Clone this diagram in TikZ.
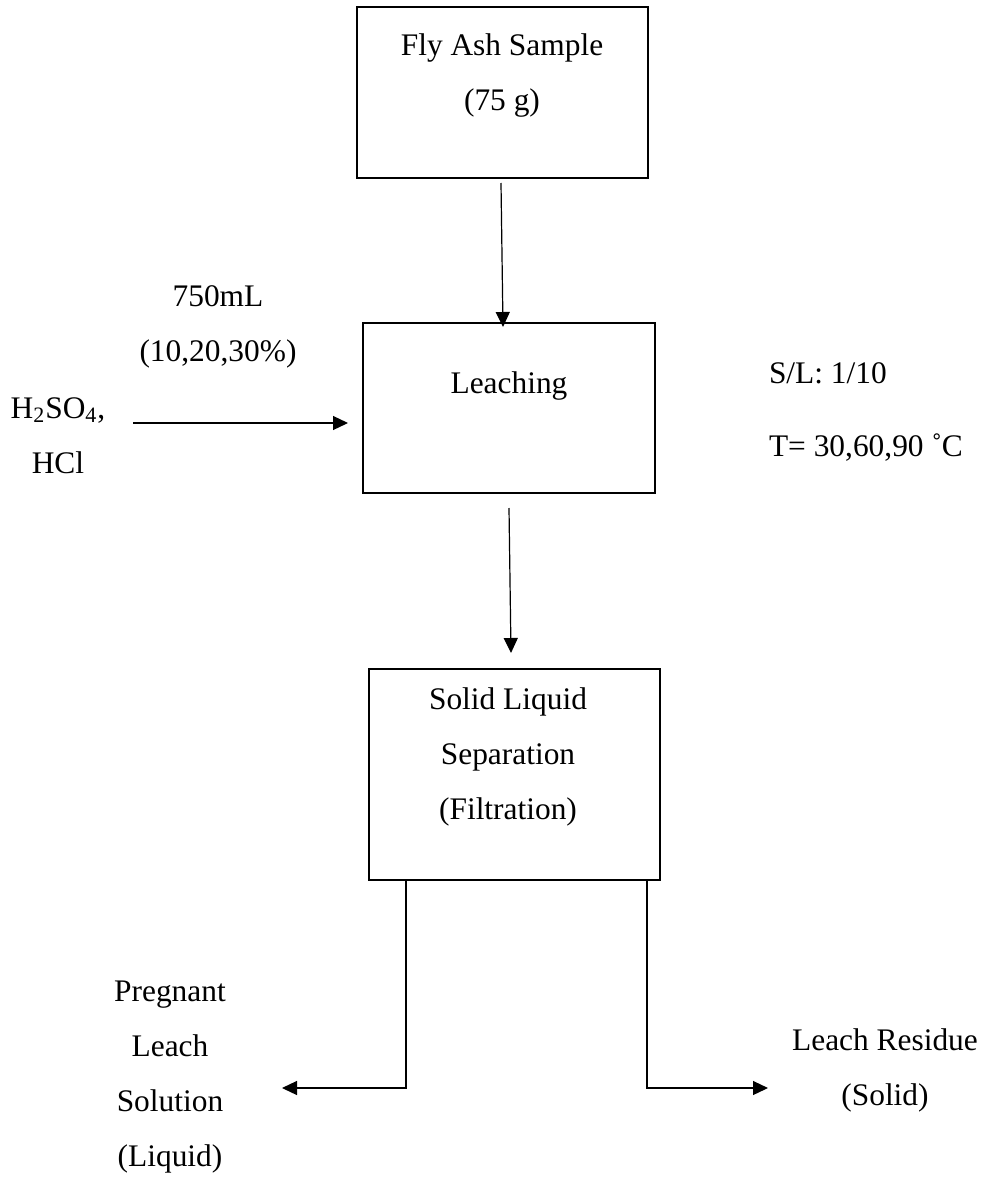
\documentclass[tikz,border=0pt]{standalone}
\usepackage{fontspec}
\setmainfont{Liberation Serif}
\usetikzlibrary{arrows.meta,calc}

\begin{document}
\begin{tikzpicture}[
  x=0.5pt, y=-0.5pt,
  every node/.style={font=\fontsize{15.7}{27.5}\selectfont, inner sep=0pt, outer sep=0pt},
  procbox/.style={draw, line width=0.7pt, rectangle},
  txt/.style={align=center},
  flow/.style={line width=0.6pt, -{Triangle[length=7.5pt,width=7pt]}}
]
\useasboundingbox (0,0) rectangle (984,1178);

% process boxes
\node[procbox, minimum width=145.5pt, minimum height=85.5pt] (sample) at (502.5,92.5) {};
\node[procbox, minimum width=146pt, minimum height=85pt] (leach) at (509,408) {};
\node[procbox, minimum width=145.5pt, minimum height=105.5pt] (sep) at (514.5,774.5) {};

% box texts
\node[txt] (sampleT) at (502,75) {Fly Ash Sample\\(75 g)};
\node[txt] (leachT) at (509,386) {Leaching};
\node[txt] (sepT) at (508,757) {Solid Liquid\\Separation\\(Filtration)};

% side annotations
\node[txt] (vol) at (218,326.5) {750mL\\(10,20,30\%)};
\node[txt] (acid) at (58,435.5) {H\textsubscript{2}SO\textsubscript{4},\\HCl};
\node[anchor=west] (sl) at (769,373) {S/L: 1/10};
\node[anchor=west] (temp) at (769,448) {T= 30,60,90 ˚C};

% products
\node[txt] (pls) at (170,1077.5) {Pregnant\\Leach\\Solution\\(Liquid)};
\node[txt] (res) at (885,1070) {Leach Residue\\(Solid)};

% connectors
\draw[flow] ($(sample.south)+(-1.5,5)$) -- ($(leach.north)+(-6,4)$);
\draw[flow] ($(leach.south)+(0,15)$) -- ($(sep.north)+(-3.5,-16)$);
\coordinate (acidIn) at (133,423);
\draw[flow] (acidIn) -- ($(leach.west)+(-15,15)$);

\coordinate (plsEnd) at (282,1088);
\coordinate (resEnd) at (768,1088);
\draw[flow] ($(sep.south)+(-108.5,0)$) |- (plsEnd);
\draw[flow] ($(sep.south)+(132.5,0)$) |- (resEnd);
\end{tikzpicture}
\end{document}
